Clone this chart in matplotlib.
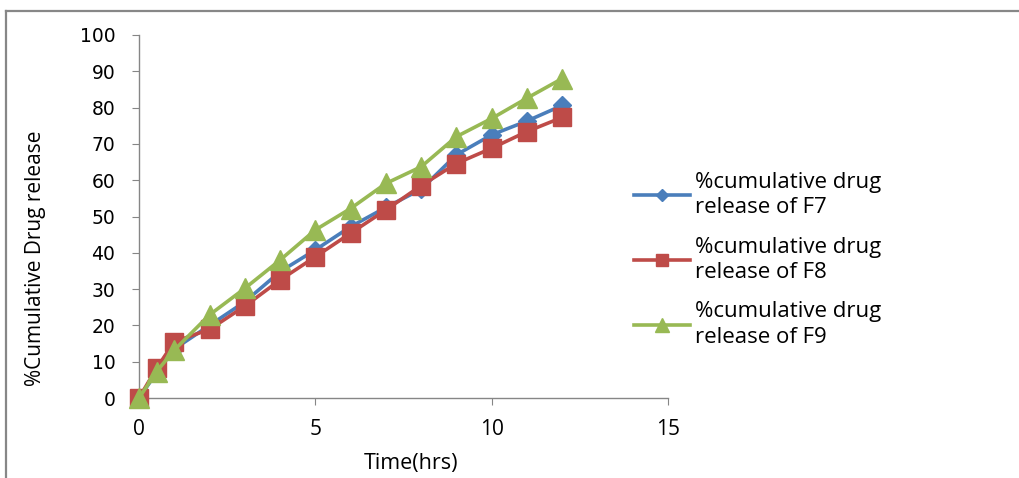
import matplotlib
matplotlib.use("Agg")
import matplotlib.pyplot as plt
from matplotlib.lines import Line2D

# time points (hrs)
time_hrs = [0, 0.5, 1, 2, 3, 4, 5, 6, 7, 8, 9, 10, 11, 12]

# % cumulative drug release
f7 = [0, 7.0, 13.5, 20.0, 26.5, 34.8, 40.8, 47.2, 52.5, 57.5, 67.0, 72.5, 76.3, 80.6]
f8 = [0, 8.2, 15.5, 18.9, 25.3, 32.5, 38.9, 45.4, 51.8, 58.5, 64.6, 68.8, 73.4, 77.3]
f9 = [0, 7.3, 13.2, 22.9, 30.2, 38.0, 46.3, 52.2, 59.1, 63.7, 72.0, 77.0, 82.6, 88.0]

labels = ["%cumulative drug\nrelease of F7",
          "%cumulative drug\nrelease of F8",
          "%cumulative drug\nrelease of F9"]

W, H = 1020, 478
fig = plt.figure(figsize=(W / 100, H / 100), dpi=100)
ax = fig.add_axes([139 / W, 1 - 398 / H, (668 - 139) / W, (398 - 35) / H])

ax.plot(time_hrs, f7, color="#4A7EBB", lw=2.6, marker="D", ms=9,
        mec="#4A7EBB", clip_on=False, zorder=3, label=labels[0])
ax.plot(time_hrs, f8, color="#BE4B48", lw=2.6, marker="s", ms=13,
        mec="#BE4B48", clip_on=False, zorder=4, label=labels[1])
ax.plot(time_hrs, f9, color="#98B954", lw=2.6, marker="^", ms=15,
        mec="#98B954", clip_on=False, zorder=5, label=labels[2])

ax.set_xlim(0, 15)
ax.set_ylim(0, 100)
ax.set_xticks([0, 5, 10, 15])
ax.set_yticks(range(0, 101, 10))

for s in ["top", "right"]:
    ax.spines[s].set_visible(False)
for s in ["left", "bottom"]:
    ax.spines[s].set_color("#868686")
    ax.spines[s].set_linewidth(1.0)

ax.tick_params(axis="y", direction="out", length=5, color="#868686",
               pad=12, labelsize=13.5)
ax.tick_params(axis="x", direction="out", length=5, color="#868686",
               pad=10, labelsize=15)
for t in ax.get_yticklabels():
    t.set_fontfamily("DejaVu Sans")
for t in ax.get_xticklabels():
    t.set_fontfamily("Open Sans")

fig.text(411 / W, 1 - 463 / H, "Time(hrs)", ha="center", va="center",
         fontsize=15.5, family="Open Sans")
fig.text(36 / W, 1 - 258 / H, "%Cumulative Drug release", ha="center",
         va="center", rotation=90, fontsize=15, family="Open Sans")

leg = ax.legend(loc="upper left", bbox_to_anchor=(634 / W, 1 - 172 / H),
                bbox_transform=fig.transFigure, frameon=False,
                prop={"family": "Open Sans", "size": 16},
                handlelength=2.5, handletextpad=0.25, labelspacing=0.82,
                borderaxespad=0, borderpad=0, markerscale=0.7)
for t in leg.get_texts():
    t.set_linespacing(1.28)

# outer chart border (top and left visible)
fig.add_artist(Line2D([6 / W, 6 / W], [0, 1 - 10.5 / H], color="#878787",
                      lw=1.6, transform=fig.transFigure))
fig.add_artist(Line2D([6 / W, 1], [1 - 10.5 / H, 1 - 10.5 / H],
                      color="#878787", lw=1.6, transform=fig.transFigure))

fig.savefig("out.png", dpi=100)
